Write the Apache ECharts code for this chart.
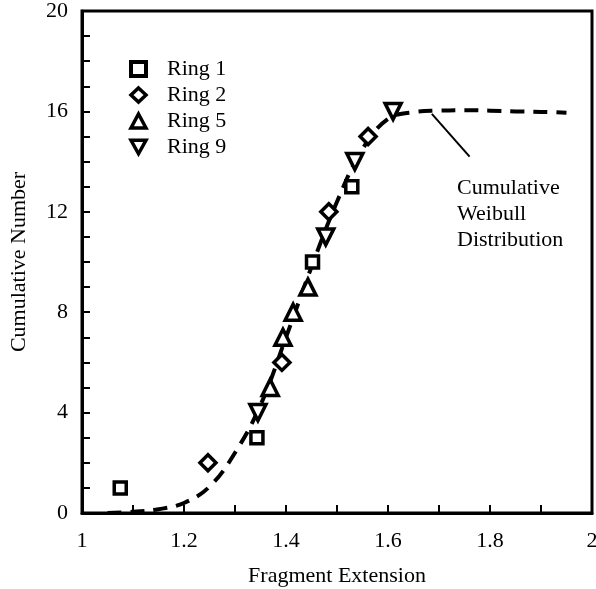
<!DOCTYPE html>
<html><head><meta charset="utf-8">
<script src="https://cdn.jsdelivr.net/npm/echarts@6/dist/echarts.min.js"></script>
<style>html,body{margin:0;padding:0;background:#fff}#c{width:596px;height:589px}</style>
</head><body><div id="c"></div>
<script>
const ring1 = [[1.075, 1], [1.343, 3], [1.452, 10], [1.529, 13]];
const ring2 = [[1.247, 2], [1.392, 6], [1.484, 12], [1.561, 15]];
const ring5 = [[1.369, 5], [1.394, 7], [1.414, 8], [1.443, 9]];
const ring9 = [[1.345, 4], [1.478, 11], [1.535, 14], [1.61, 16]];
const curveX = [1.05, 1.10, 1.15, 1.20, 1.25, 1.30, 1.35, 1.40, 1.45, 1.50, 1.55, 1.60, 1.65, 1.70, 1.75, 1.80, 1.85, 1.90, 1.95];
const curveY = [0.0, 0.05, 0.15, 0.4, 1.05, 2.4, 4.3, 7.0, 9.8, 12.4, 14.5, 15.7, 15.97, 16.03, 16.05, 16.03, 16.0, 15.98, 15.95];
const xTicks = {min: 1, max: 2, interval: 0.2};
const yTicks = {min: 0, max: 20, interval: 4};
const annotationText = ['Cumulative', 'Weibull', 'Distribution'];

const font = 'Liberation Serif';
const fs = 22;
const chart = echarts.init(document.getElementById('c'));
const markerStyle = {color: '#fff', borderColor: '#000', borderWidth: 3.5, opacity: 1};
function ring(name, data, symbol, rot) {
  return {name, type: 'scatter', data, symbol, symbolSize: symbol === 'rect' ? 12 : 16,
    symbolRotate: rot || 0, itemStyle: markerStyle, z: 5};
}
const downTri = 'path://M0,0 L10,0 L5,9 Z';
chart.setOption({
  animation: false,
  backgroundColor: '#fff',
  grid: {left: 82, top: 11, right: 4, bottom: 76, show: true, borderColor: '#000', borderWidth: 3,
    containLabel: false, outerBoundsMode: 'none'},
  legend: {
    data: [
      {name: 'Ring 1', icon: 'rect', itemStyle: {borderWidth: 4}},
      {name: 'Ring 2', icon: 'diamond'},
      {name: 'Ring 5', icon: 'triangle'},
      {name: 'Ring 9', icon: downTri}
    ],
    orient: 'vertical', left: 124, top: 53, itemGap: 4, itemWidth: 15, itemHeight: 14,
    itemStyle: {color: '#fff', borderColor: '#000', borderWidth: 3.5},
    textStyle: {fontFamily: font, fontSize: fs, color: '#000', padding: [0, 0, 0, 16]}
  },
  xAxis: {
    type: 'value', min: xTicks.min, max: xTicks.max, interval: xTicks.interval,
    name: 'Fragment Extension', nameLocation: 'middle', nameGap: 52,
    nameTextStyle: {fontFamily: font, fontSize: fs, color: '#000'},
    axisLine: {lineStyle: {color: '#000', width: 3}},
    axisTick: {inside: true, length: 8, lineStyle: {color: '#000', width: 2}},
    minorTick: {show: true, splitNumber: 2, length: 8, lineStyle: {color: '#000', width: 2}},
    axisLabel: {fontFamily: font, fontSize: fs, color: '#000', margin: 17},
    splitLine: {show: false}
  },
  yAxis: {
    type: 'value', min: yTicks.min, max: yTicks.max, interval: yTicks.interval,
    name: 'Cumulative Number', nameLocation: 'middle', nameGap: 52,
    nameTextStyle: {fontFamily: font, fontSize: fs, color: '#000'},
    axisLine: {lineStyle: {color: '#000', width: 3}},
    axisTick: {inside: true, length: 8, lineStyle: {color: '#000', width: 2}},
    minorTick: {show: true, splitNumber: 4, length: 8, lineStyle: {color: '#000', width: 2}},
    axisLabel: {fontFamily: font, fontSize: fs, color: '#000', margin: 14},
    splitLine: {show: false}
  },
  series: [
    {name: 'Weibull', type: 'line', smooth: 0.4, symbol: 'none',
     data: curveX.map((x, i) => [x, curveY[i]]),
     lineStyle: {color: '#000', width: 4, type: [14, 9]}, z: 3,
     markLine: {silent: true, symbol: 'none', label: {show: false},
       lineStyle: {color: '#000', width: 2, type: 'solid'},
       data: [[{coord: [1.686, 15.9]}, {coord: [1.76, 14.2]}]]}},
    ring('Ring 1', ring1, 'rect'),
    ring('Ring 2', ring2, 'diamond'),
    ring('Ring 5', ring5, 'triangle'),
    ring('Ring 9', ring9, 'triangle', 180)
  ],
  graphic: [{type: 'text', left: 457, top: 175,
    style: {text: annotationText.join('\n'), font: fs + 'px "Liberation Serif"', fill: '#000', lineHeight: 26}}]
});
</script></body></html>
